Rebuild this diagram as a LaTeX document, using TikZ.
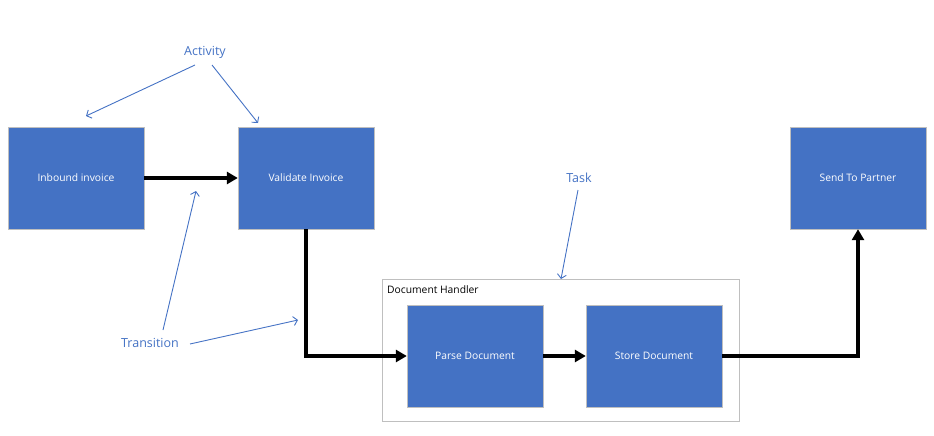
\documentclass[tikz,border=0pt]{standalone}
\usepackage{fontspec}
\setmainfont{Open Sans}
\usetikzlibrary{arrows.meta}
\definecolor{boxblue}{HTML}{4472C4}
\definecolor{notecol}{HTML}{4472C4}
\tikzset{
  activity/.style={draw=black!25, fill=boxblue, text=white, minimum width=136pt, minimum height=102pt, inner sep=0pt, font=\fontsize{10.3}{12}\selectfont},
  transition/.style={line width=3.3pt, -{Triangle[length=11pt,width=12pt]}},
  note/.style={text=notecol, font=\fontsize{12.5}{14}\selectfont},
  pointer/.style={notecol, line width=0.9pt, -{Straight Barb[length=4pt,width=9pt]}}
}
\begin{document}
\begin{tikzpicture}[x=1pt, y=-1pt]
\useasboundingbox (0,0) rectangle (934,436);
% task container
\node[draw=black!25, line width=0.9pt, minimum width=357pt, minimum height=142pt, inner sep=0pt] (handler) at (560.5,350) {};
\node[anchor=north west, inner sep=0pt, font=\fontsize{10.3}{12}\selectfont] (handlerlabel) at (387,285) {Document Handler};
% activities
\node[activity] (inbound) at (76,178) {Inbound invoice};
\node[activity] (validate) at (306,178) {Validate Invoice};
\node[activity] (send) at (858,178) {Send To Partner};
\node[activity] (parse) at (475,356) {Parse Document};
\node[activity] (store) at (654,356) {Store Document};
% transitions
\draw[transition] (inbound) -- (validate);
\draw[transition] (validate.south) |- (parse.west);
\draw[transition] (parse) -- (store);
\draw[transition] (store.east) -| (send.south);
% annotations
\node[note] (activitynote) at (205,52) {Activity};
\node[note] (tasknote) at (579,178) {Task};
\node[note] (transitionnote) at (150,343) {Transition};
\coordinate (a1) at (86,116);
\coordinate (a2) at (258,123);
\coordinate (t1) at (561,279);
\coordinate (r1) at (196,191);
\coordinate (r2) at (298,320);
\draw[pointer] (195,65) -- (a1);
\draw[pointer] (212,65) -- (a2);
\draw[pointer] (578,190) -- (t1);
\draw[pointer] (163,330) -- (r1);
\draw[pointer] (190,344) -- (r2);
\end{tikzpicture}
\end{document}
